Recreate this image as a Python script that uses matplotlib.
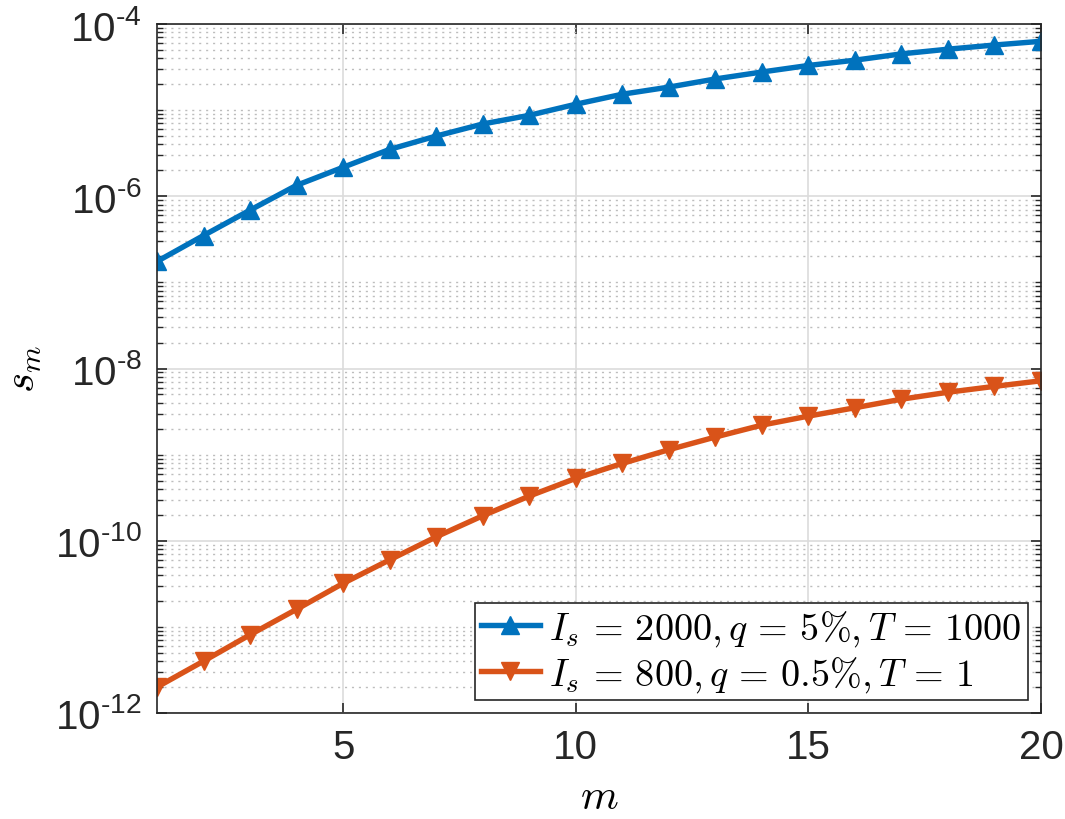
import matplotlib
matplotlib.use("Agg")
import matplotlib.pyplot as plt
import matplotlib.ticker as mticker
import numpy as np

m = list(range(1, 21))
s_blue = [1.75e-7, 3.5e-7, 6.9e-7, 1.34e-6, 2.17e-6, 3.5e-6, 5.0e-6, 6.9e-6, 8.7e-6, 1.17e-5,
          1.53e-5, 1.85e-5, 2.3e-5, 2.77e-5, 3.3e-5, 3.8e-5, 4.5e-5, 5.1e-5, 5.7e-5, 6.3e-5]
s_red = [2.0e-12, 4.0e-12, 8.1e-12, 1.6e-11, 3.2e-11, 6.0e-11, 1.11e-10, 1.95e-10, 3.3e-10, 5.3e-10,
         7.9e-10, 1.14e-9, 1.6e-9, 2.2e-9, 2.8e-9, 3.5e-9, 4.4e-9, 5.3e-9, 6.2e-9, 7.2e-9]
label_blue = r"$I_s\,=\,2000,q\,=\,5\%,T\,=\,1000$"
label_red = r"$I_s\,=\,800,q\,=\,0.5\%,T\,=\,1$"
xticks = [5, 10, 15, 20]
ymajor = [1e-12, 1e-10, 1e-8, 1e-6, 1e-4]

plt.rcParams['font.family'] = ['Liberation Sans', 'DejaVu Sans']
plt.rcParams['mathtext.fontset'] = 'custom'
plt.rcParams['mathtext.rm'] = 'Liberation Sans'
plt.rcParams['mathtext.it'] = 'Liberation Sans:italic'
plt.rcParams['mathtext.bf'] = 'Liberation Sans:bold'

fig = plt.figure(figsize=(10.65, 8.2), dpi=100)
ax = fig.add_axes([157/1065, 1 - 714/820, (1041-157)/1065, (714-25)/820])

ax.plot(m, s_blue, color='#0072BD', lw=3.9, marker='^', ms=12.5, label=label_blue)
ax.plot(m, s_red, color='#D95319', lw=3.9, marker='v', ms=12.5, label=label_red)

ax.set_yscale('log')
ax.set_xlim(1, 20)
ax.set_ylim(1e-12, 1e-4)
ax.set_xticks(xticks)
ax.set_yticks(ymajor)

def fmt(v, p):
    e = int(round(np.log10(v)))
    s = str(e).replace('-', '\u2010')
    return r"$\mathregular{10^{%s}}$" % s

ax.yaxis.set_major_formatter(mticker.FuncFormatter(fmt))
minor = [k * 10.0**e for e in range(-12, -4) for k in range(1, 10) if not (k == 1 and e % 2 == 0)]
ax.yaxis.set_minor_locator(mticker.FixedLocator(minor))
ax.yaxis.set_minor_formatter(mticker.NullFormatter())

ax.grid(True, which='major', color='#dcdcdc', lw=1.2, ls='-')
ax.grid(True, which='minor', axis='y', color='#bdbdbd', lw=1.0, ls=(0, (1.5, 3.5)))
ax.set_axisbelow(True)

ax.tick_params(axis='both', which='major', direction='in', length=7, width=1.2,
               labelsize=29, colors='#262626', top=True, right=True, pad=11)
ax.tick_params(axis='y', which='minor', direction='in', length=4, width=1.0, right=True, colors='#262626')
for sp in ax.spines.values():
    sp.set_color('#262626')
    sp.set_linewidth(1.2)

ax.set_xlabel(r"$m$", fontsize=31, labelpad=8, math_fontfamily='cm')
ax.set_ylabel(r"$s_m$", fontsize=31, labelpad=8, math_fontfamily='cm')

leg = ax.legend(loc='lower right', fontsize=27.5, frameon=True, fancybox=False,
                edgecolor='#262626', framealpha=1, borderpad=0.15, handlelength=1.55,
                handletextpad=0.25, labelspacing=0.15, borderaxespad=0.35)
leg.get_frame().set_linewidth(1.2)
for t in leg.get_texts():
    t.set_math_fontfamily('cm')

fig.savefig("out.png", dpi=100)
